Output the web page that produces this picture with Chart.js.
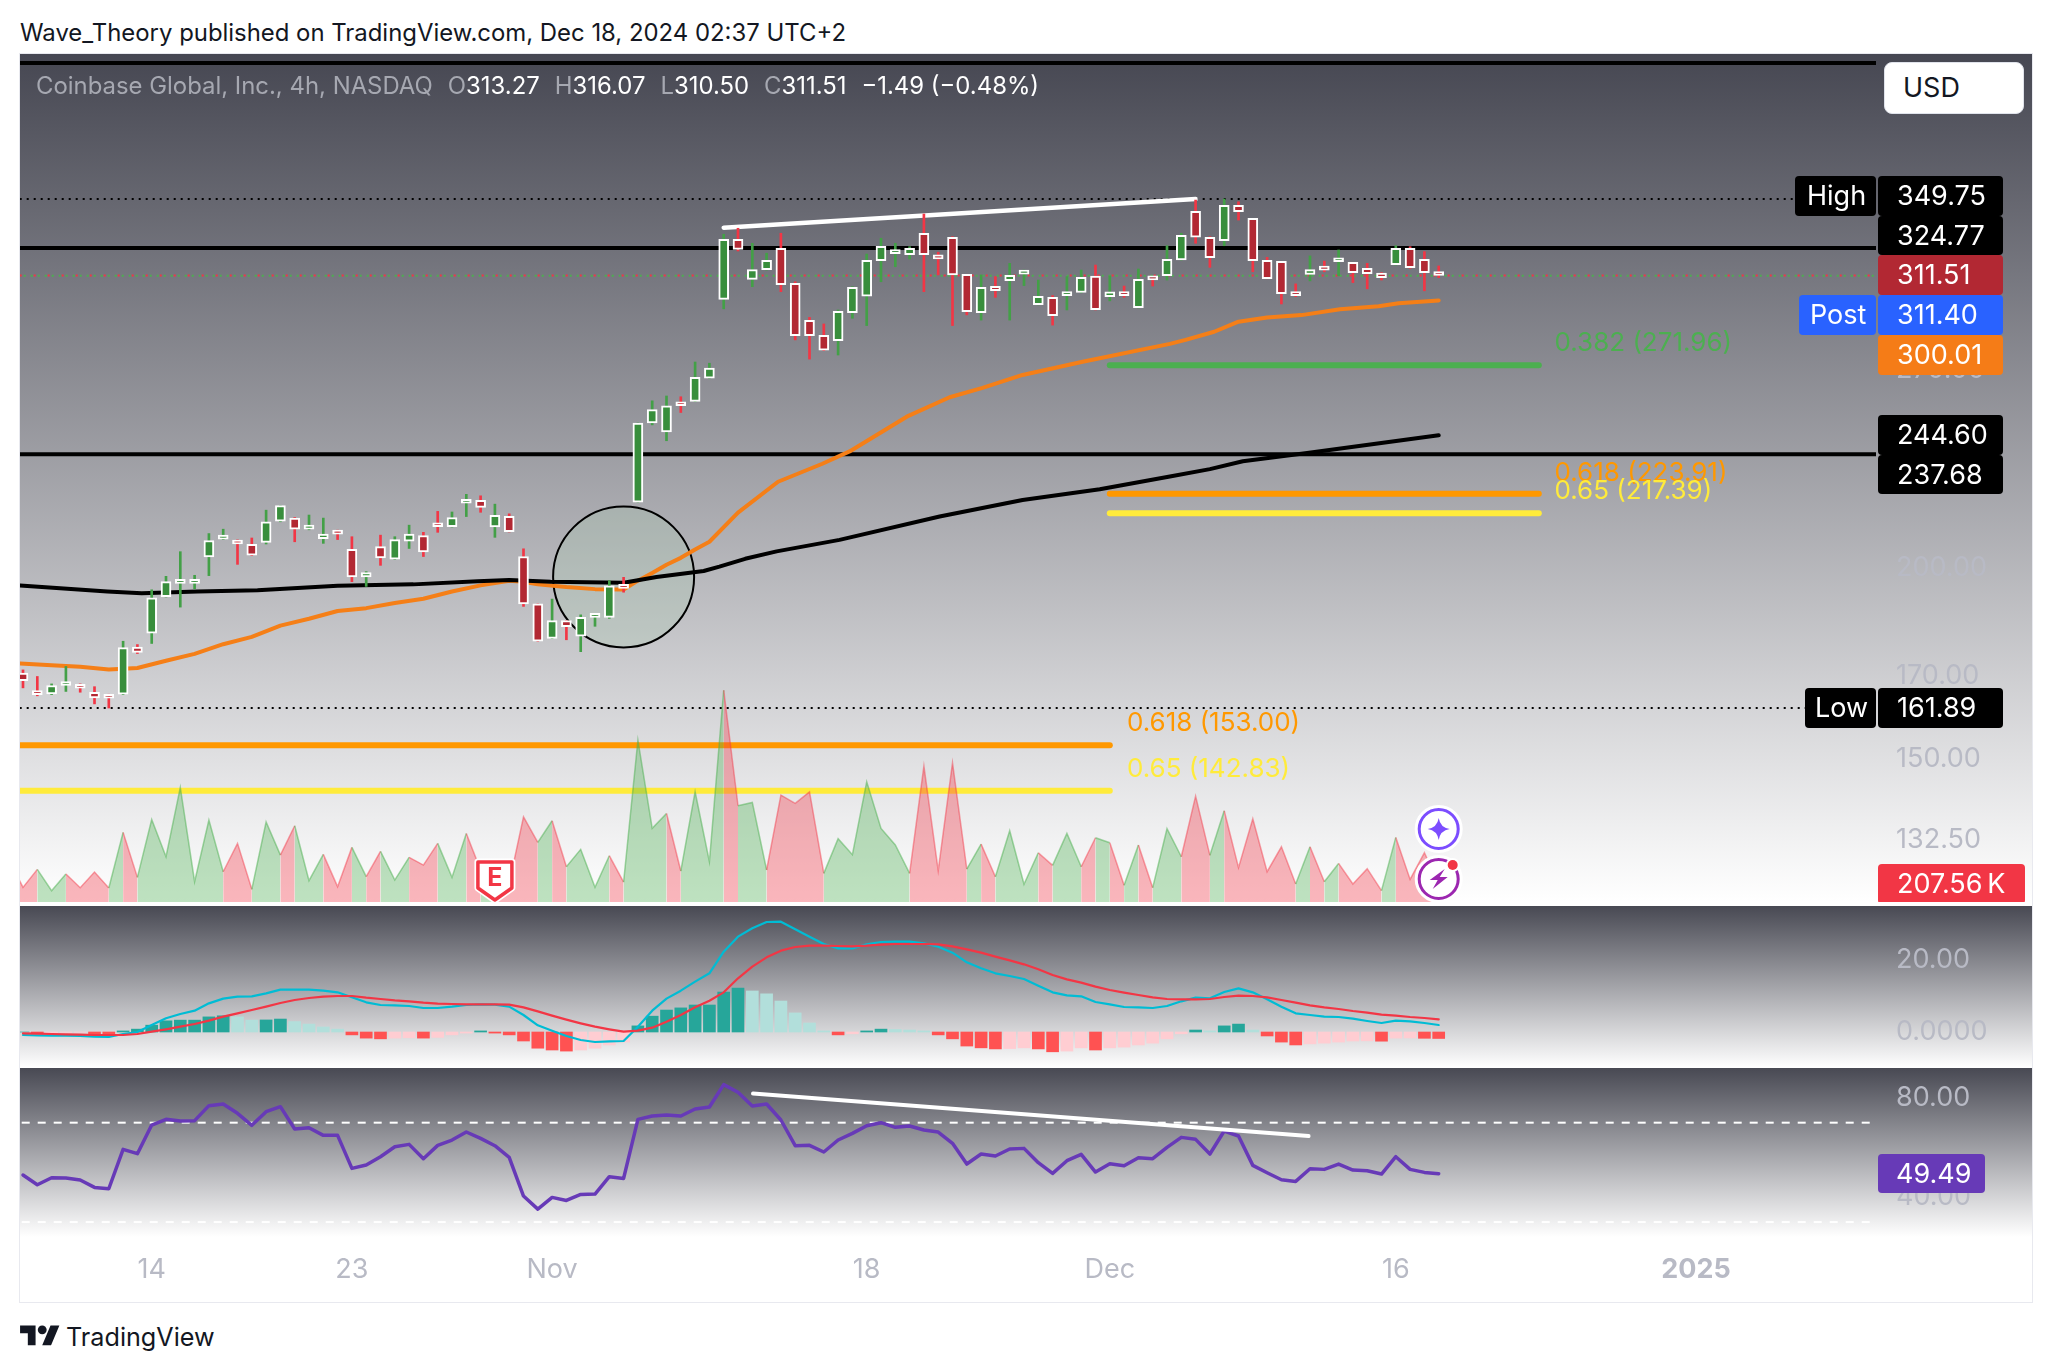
<!DOCTYPE html>
<html>
<head>
<meta charset="utf-8">
<title>Coinbase Global, Inc., 4h</title>
<script src="https://cdn.jsdelivr.net/npm/chart.js@4"></script>
<style>
    html, body { margin: 0; padding: 0; background: #fff; width: 2052px; height: 1372px; overflow: hidden; font-family: Inter, sans-serif; }
    .abs { position: absolute; white-space: nowrap; }
    .pane { position: absolute; left: 20px; width: 2012px; }
    .pane canvas { display: block; }
    #pricePane { top: 54px; height: 848px; background: linear-gradient(#464752, #fff); }
    #macdPane { top: 906px; height: 162px; background: linear-gradient(#484953, #fff); }
    #rsiPane { top: 1068px; height: 234px; background: linear-gradient(#484953 0, #fff 169px, #fff 100%); }
    #frame { position: absolute; left: 19px; top: 53px; width: 2012px; height: 1248px; border: 1px solid #e8e9ef; pointer-events: none; }
    #byline { left: 20px; top: 18px; font-size: 23.9px; color: #131722; }
    #legend { left: 36px; top: 71px; font-size: 23.9px; color: #a6a8b1; }
    #legend b { font-weight: 400; color: #fff; }
    #legend span { margin-left: 15px; }
    #usd { left: 1884px; top: 62px; width: 140px; height: 52px; box-sizing: border-box; background: #fff; border: 1px solid #e0e3eb; border-radius: 8px; font-size: 27px; line-height: 50px; padding-left: 18px; color: #131722; }
    #brand { left: 66px; top: 1322px; font-size: 25.2px; color: #131722; }
</style>
</head>
<body>
<div class="abs" id="byline">Wave_Theory published on TradingView.com, Dec 18, 2024 02:37 UTC+2</div>

<div class="pane" id="pricePane"><canvas id="priceChart" width="2012" height="848"></canvas></div>
<div class="pane" id="macdPane"><canvas id="macdChart" width="2012" height="162"></canvas></div>
<div class="pane" id="rsiPane"><canvas id="rsiChart" width="2012" height="234"></canvas></div>
<div id="frame"></div>

<div class="abs" id="legend">Coinbase Global, Inc., 4h, NASDAQ<span>O<b>313.27</b></span><span>H<b>316.07</b></span><span>L<b>310.50</b></span><span>C<b>311.51</b></span><span><b>−1.49 (−0.48%)</b></span></div>
<div class="abs" id="usd">USD</div>

<svg class="abs" style="left:20px;top:1321px" width="40" height="31" viewBox="0 0 36 28">
    <path fill="#131722" d="M14 22H7V11H0V4h14v18zM28 22h-8l7.5-18h8L28 22z"/>
    <circle fill="#131722" cx="20" cy="8" r="4"/>
</svg>
<div class="abs" id="brand">TradingView</div>

<script>
// Candles (4h bars)
const opens = [
    170.7, 166.0, 165.4, 167.5, 167.7, 165.8, 164.7, 165.3, 177.5, 181.3,
    191.6, 195.5, 195.5, 203.5, 209.0, 208.7, 207.4, 208.0, 214.8, 215.8,
    212.2, 209.2, 211.1, 205.8, 197.4, 206.7, 202.8, 208.4, 210.2, 213.5,
    213.0, 220.7, 221.7, 212.9, 216.4, 203.6, 189.5, 179.9, 184.8, 180.5,
    185.7, 185.7, 195.0, 221.1, 249.2, 245.9, 256.3, 257.5, 266.7, 300.5,
    329.0, 309.7, 314.3, 324.6, 307.9, 291.1, 284.6, 282.3, 294.5, 301.9,
    318.6, 322.0, 321.5, 332.1, 321.4, 330.1, 312.1, 294.5, 306.5, 309.1,
    312.2, 298.1, 301.4, 302.2, 303.6, 311.2, 301.7, 303.9, 296.7, 310.3,
    311.4, 319.0, 343.3, 330.1, 328.4, 346.4, 339.7, 318.8, 318.3, 303.9,
    312.0, 314.7, 318.1, 317.8, 314.9, 312.7, 316.7, 324.6, 319.2, 313.27
];
const highs = [
    171.5, 169.8, 167.9, 172.4, 167.9, 167.2, 165.3, 179.1, 178.2, 193.6,
    197.6, 205.1, 197.9, 210.8, 212.2, 208.8, 209.4, 218.4, 219.9, 216.0,
    216.8, 215.8, 211.9, 209.8, 199.0, 210.3, 209.8, 213.5, 211.2, 218.0,
    217.8, 223.7, 223.2, 220.4, 217.2, 206.0, 189.5, 190.9, 184.8, 186.4,
    186.4, 196.3, 197.3, 249.2, 257.7, 259.6, 259.3, 273.3, 272.8, 331.6,
    334.6, 327.1, 322.2, 332.1, 308.6, 292.4, 289.5, 295.7, 306.3, 321.8,
    329.6, 327.1, 325.4, 341.9, 322.7, 330.4, 312.1, 311.8, 311.0, 317.3,
    314.1, 309.4, 302.2, 311.0, 314.1, 316.5, 311.3, 306.6, 314.6, 310.3,
    325.9, 332.1, 349.2, 330.4, 349.75, 348.3, 339.7, 320.2, 318.3, 307.6,
    320.9, 318.4, 323.8, 317.8, 317.3, 312.9, 325.9, 325.4, 323.0, 316.07
];
const lows = [
    166.9, 164.9, 165.2, 166.0, 165.8, 162.9, 161.89, 165.2, 175.8, 178.5,
    191.5, 188.6, 193.9, 197.8, 208.9, 201.2, 203.9, 207.5, 214.6, 208.2,
    212.0, 207.7, 208.9, 196.0, 194.6, 200.9, 202.7, 206.1, 203.6, 211.2,
    212.9, 216.3, 217.7, 209.6, 211.3, 188.8, 179.1, 179.8, 179.5, 176.3,
    183.2, 185.4, 192.9, 221.1, 248.5, 242.6, 253.2, 257.4, 266.6, 296.2,
    323.3, 306.3, 314.1, 304.0, 282.6, 274.5, 278.1, 276.2, 292.0, 288.8,
    308.6, 315.7, 319.4, 304.0, 311.8, 288.8, 293.5, 291.2, 301.4, 291.2,
    306.8, 298.0, 289.0, 295.7, 303.5, 295.7, 299.8, 301.4, 296.6, 306.6,
    309.4, 318.9, 327.1, 315.4, 325.9, 338.8, 313.3, 310.0, 298.4, 301.7,
    309.0, 313.3, 311.4, 308.2, 305.3, 309.4, 316.5, 314.9, 304.4, 310.5
];
const closes = [
    168.7, 165.2, 167.5, 167.8, 166.8, 164.4, 164.3, 177.4, 176.1, 191.3,
    196.0, 195.9, 196.1, 208.6, 210.3, 207.5, 204.0, 214.6, 219.9, 212.2,
    213.5, 210.6, 210.6, 197.4, 198.7, 203.2, 208.9, 210.6, 205.0, 213.0,
    216.0, 221.7, 219.3, 216.7, 211.4, 189.5, 179.1, 184.8, 183.1, 185.7,
    186.4, 194.8, 194.0, 249.2, 254.3, 255.8, 255.8, 267.0, 270.8, 329.0,
    324.1, 314.3, 318.8, 307.2, 284.4, 284.4, 278.2, 295.1, 306.0, 318.8,
    325.6, 322.8, 324.6, 321.5, 319.4, 311.8, 294.9, 306.0, 304.5, 311.6,
    313.0, 301.9, 293.1, 303.9, 310.7, 295.8, 303.9, 302.2, 309.7, 309.5,
    319.2, 331.1, 330.1, 320.0, 346.4, 343.1, 318.6, 310.0, 303.1, 302.2,
    314.3, 314.1, 318.9, 312.9, 312.4, 310.5, 324.6, 315.2, 312.9, 311.51
];

// Volume in thousands, first value belongs to the bar just left of the visible range
const volumes = [
    495, 169, 376, 131, 323, 165, 346, 161, 803, 284, 952,
    522, 1321, 234, 945, 349, 676, 146, 922, 541, 879,
    246, 549, 177, 630, 292, 584, 253, 515, 426, 676,
    284, 791, 369, 445, 215, 983, 687, 937, 407, 607,
    169, 534, 230, 1866, 849, 1021, 357, 1271, 465, 2442,
    1110, 1148, 369, 1233, 1137, 1271, 330, 730, 545, 1386,
    849, 657, 330, 1567, 361, 1605, 380, 668, 292, 822,
    204, 568, 422, 791, 407, 741, 684, 192, 657, 165,
    845, 522, 1221, 538, 1052, 396, 960, 349, 637, 207,
    637, 234, 445, 207, 384, 131, 745, 261, 568, 207.56
];

// Moving averages, bar index + value
const emaBars = [-0.2, 2, 4, 6, 8, 10, 12, 14, 16, 18, 20, 22, 24, 26, 28, 30, 32, 34, 35, 36, 38, 40, 42, 43, 44, 45, 46, 47, 48, 50, 52.8, 55.9, 57.8, 61.8, 64.8, 67.1, 69.9, 74.1, 80.2, 81.3, 83.3, 85, 87, 89.4, 92.1, 94.8, 96.2, 99];
const emaValues = [173.2, 172.7, 172.3, 171.6, 172.0, 173.9, 175.7, 178.3, 180.3, 183.4, 185.3, 187.5, 188.3, 189.8, 191.0, 193.1, 194.9, 196.3, 196.0, 195.2, 194.4, 193.8, 193.7, 196.3, 198.6, 201.1, 203.2, 205.8, 208.2, 217.6, 228.0, 234.3, 238.7, 251.6, 259.1, 262.8, 268.0, 273.4, 280.9, 282.6, 286.1, 290.5, 292.3, 293.4, 296.0, 297.4, 298.7, 300.01];
const smaBars = [-0.2, 5.9, 8.3, 12.2, 16.4, 22, 27.3, 31.8, 34, 36.9, 42, 44.3, 47.6, 48.7, 50.5, 52.7, 57.1, 64.1, 69.9, 75.3, 80.2, 83, 85.3, 89.8, 99];
const smaValues = [194.9, 193.1, 192.6, 193.1, 193.5, 194.8, 195.2, 196.1, 196.5, 196.0, 195.7, 197.4, 199.2, 200.5, 202.9, 205.2, 208.8, 216.3, 221.8, 225.4, 229.8, 232.4, 235.2, 238.1, 244.6];

// Drawings on the price pane
const blackLevels = [429.7, 324.77, 237.68];
const dottedLevels = [349.75, 161.89];
const fibLevels = [271.96, 223.91, 217.39, 153.00, 142.83];
const fibColors = ['#4caf50', '#ff9800', '#ffeb3b', '#ff9800', '#ffeb3b'];
const fibFrom = [76, 76, 76, -0.3, -0.3];
const fibTo = [106, 106, 106, 76, 76];
const fibLabels = ['0.382 (271.96)', '0.618 (223.91)', '0.65 (217.39)', '0.618 (153.00)', '0.65 (142.83)'];
const priceTrendBars = [49, 82];
const priceTrendValues = [334.9, 349.75];
const circleBar = 42;
const circlePrice = 197.4;

// MACD
const histogram = [
    0, -0.3, -0.2, -0.1, -0.05, -0.8, -1.0, 0.3, 0.8, 1.9,
    3.1, 3.3, 3.3, 4.2, 4.5, 4.2, 3.3, 3.35, 3.6, 2.9,
    2.2, 1.4, 0.8, -0.8, -1.7, -1.9, -1.7, -1.6, -1.7, -1.5,
    -0.8, -0.3, 0.3, -0.3, -0.8, -2.5, -4.5, -5.0, -5.3, -5.0,
    -4.5, -3.6, -2.8, 1.7, 4.4, 6.1, 6.7, 7.5, 7.5, 11.1,
    12.2, 11.4, 10.6, 8.6, 5.3, 2.5, 0.3, -0.8, -0.5, 0.3,
    0.8, 0.7, 0.55, 0.3, -0.8, -1.9, -3.9, -4.4, -4.7, -4.6,
    -4.4, -4.7, -5.5, -5.3, -4.4, -5.0, -4.4, -4.2, -3.6, -3.1,
    -1.9, -0.5, 0.55, 0.3, 1.7, 2.2, 0.55, -1.1, -2.8, -3.6,
    -3.3, -3.1, -2.8, -2.5, -2.45, -2.55, -1.7, -1.65, -1.75, -1.8
];
const macdLine = [
    -0.83, -0.93, -1.02, -1.02, -1.11, -1.30, -1.39, -0.56, 0, 1.94,
    3.80, 5.00, 5.93, 7.96, 9.26, 9.81, 9.91, 10.74, 11.76, 11.76,
    11.76, 11.48, 11.02, 9.63, 8.24, 7.50, 7.41, 7.22, 6.67, 6.67,
    7.04, 7.50, 7.69, 7.59, 7.04, 4.72, 1.85, 0.37, -1.11, -2.22,
    -2.78, -2.59, -2.50, 1.48, 5.93, 9.26, 11.48, 13.98, 16.30, 22.31,
    26.48, 28.80, 30.56, 30.65, 28.52, 26.48, 24.44, 23.24, 23.24, 24.35,
    25.00, 25.09, 25.09, 24.63, 23.70, 22.04, 19.35, 17.69, 16.30, 15.56,
    14.72, 12.87, 11.02, 10.19, 9.91, 8.33, 7.69, 6.94, 6.85, 6.67,
    7.22, 8.52, 9.54, 9.35, 11.11, 12.13, 11.02, 9.07, 7.04, 5.19,
    4.72, 4.26, 4.17, 3.70, 3.06, 2.50, 3.15, 2.96, 2.50, 1.94
];
const signalLine = [
    -0.37, -0.46, -0.56, -0.65, -0.74, -0.83, -0.83, -0.83, -0.56, 0.09,
    0.74, 1.48, 2.22, 3.15, 4.26, 5.19, 6.11, 7.04, 8.06, 8.89,
    9.44, 9.81, 10.00, 10.00, 9.54, 9.17, 8.80, 8.52, 8.15, 7.87,
    7.78, 7.69, 7.69, 7.69, 7.59, 6.85, 5.74, 4.54, 3.43, 2.41,
    1.48, 0.74, 0.09, 0.37, 1.20, 2.87, 4.72, 6.85, 8.70, 11.02,
    14.91, 18.15, 20.74, 22.59, 23.61, 23.98, 23.98, 23.89, 23.80, 23.98,
    24.26, 24.44, 24.44, 24.44, 24.35, 23.80, 22.96, 22.04, 20.93, 19.91,
    18.80, 17.41, 15.83, 14.63, 13.70, 12.59, 11.67, 10.93, 10.28, 9.63,
    9.17, 9.07, 9.07, 9.17, 9.72, 10.09, 10.00, 9.63, 8.89, 8.15,
    7.41, 6.85, 6.39, 5.83, 5.37, 4.81, 4.54, 4.17, 3.89, 3.52
];

// RSI
const rsiValues = [
    48.92, 45.03, 47.85, 47.72, 46.91, 43.96, 43.42, 59.26, 57.52, 69.06,
    71.34, 70.67, 70.81, 76.85, 77.52, 73.76, 68.93, 74.43, 76.44, 67.45,
    67.99, 64.90, 64.90, 51.61, 52.95, 56.31, 60.33, 61.27, 55.50, 60.87,
    63.02, 66.24, 63.69, 60.74, 56.04, 40.47, 35.23, 39.93, 38.72, 41.14,
    41.27, 48.25, 47.58, 71.34, 72.68, 73.09, 72.68, 75.50, 76.31, 85.30,
    82.22, 76.71, 77.52, 71.07, 60.74, 60.87, 58.19, 63.02, 65.70, 68.79,
    70.00, 68.12, 68.66, 67.05, 66.24, 61.68, 53.35, 57.38, 56.58, 59.39,
    59.66, 53.89, 49.59, 54.70, 57.25, 50.13, 53.49, 52.68, 55.90, 55.50,
    60.07, 64.09, 63.29, 57.38, 66.64, 64.63, 52.82, 49.86, 47.04, 46.37,
    51.47, 51.21, 53.35, 50.94, 50.67, 49.33, 56.31, 51.21, 50.00, 49.49
];
const rsiBands = [70, 30];
const rsiTrendBars = [51.05, 89.9];
const rsiTrendValues = [81.7, 64.6];

// Axes
const priceTicks = [132.5, 150, 170, 200, 240, 270];
const macdTicks = [0, 20];
const rsiTicks = [40, 80];
const timeTickBars = [9, 23, 37, 59, 76, 96, 117];
const timeTickLabels = ['14', '23', 'Nov', '18', 'Dec', '16', '2025'];

// Layout of the shared time axis: 14.3px per bar across the 1856px plot
const X_MIN = -0.21;
const X_MAX = 129.58;
const AXIS_WIDTH = 156;
const TICK_COLOR = '#b8bac5';
const TAG_FONT = '27px Inter, sans-serif';

const isUp = closes.map((c, i) => c >= opens[i]);

function pairs(xs, ys) {
    return xs.map((x, i) => ({ x: x, y: ys[i] }));
}

function bars(values) {
    return values.map((v, i) => ({ x: i, y: v }));
}

function levelLine(value, color, width, dash, dashOffset, order) {
    return {
        type: 'line',
        data: pairs([X_MIN - 1, X_MAX + 1], [value, value]),
        borderColor: color,
        borderWidth: width,
        borderDash: dash || [],
        borderDashOffset: dashOffset || 0,
        pointRadius: 0,
        order: order
    };
}

function trendLine(xs, ys, color, width, order) {
    return {
        type: 'line',
        data: pairs(xs, ys),
        borderColor: color,
        borderWidth: width,
        borderCapStyle: 'round',
        borderJoinStyle: 'round',
        pointRadius: 0,
        tension: 0,
        order: order
    };
}

// Labels must not shrink the plot area, panes have to fill their canvas
function noScalePadding(scale) {
    scale.paddingTop = 0;
    scale.paddingBottom = 0;
    scale.paddingLeft = 0;
    scale.paddingRight = 0;
}

function valueAxis(ticks, format) {
    return {
        position: 'right',
        grid: { display: false, drawTicks: false },
        border: { display: false },
        afterFit: scale => {
            scale.width = AXIS_WIDTH;
            noScalePadding(scale);
        },
        afterBuildTicks: scale => { scale.ticks = ticks.map(v => ({ value: v })); },
        ticks: {
            padding: 20,
            autoSkip: false,
            color: TICK_COLOR,
            font: { family: 'Inter, sans-serif', size: 27 },
            callback: format
        }
    };
}

function timeAxis(visible) {
    const axis = { type: 'linear', offset: false, min: X_MIN, max: X_MAX, display: visible, grid: { display: false }, border: { display: false } };
    if (visible) {
        axis.afterFit = scale => {
            scale.height = 65;
            noScalePadding(scale);
        };
        axis.afterBuildTicks = scale => { scale.ticks = timeTickBars.map(v => ({ value: v })); };
        axis.ticks = {
            padding: 17,
            autoSkip: false,
            maxRotation: 0,
            color: TICK_COLOR,
            font: ctx => ({ family: 'Inter, sans-serif', size: 27, weight: ctx.tick && ctx.tick.value === 117 ? 'bold' : 'normal' }),
            callback: v => timeTickLabels[timeTickBars.indexOf(v)]
        };
        axis.grid = { display: false, drawTicks: false };
    }
    return axis;
}

function baseOptions(scales) {
    return {
        responsive: false,
        animation: false,
        layout: { padding: 0, autoPadding: false },
        plugins: { legend: { display: false }, tooltip: { enabled: false } },
        scales: scales
    };
}

function tag(ctx, x, top, w, h, color, text, textX) {
    ctx.fillStyle = color;
    ctx.beginPath();
    ctx.roundRect(x, top, w, h, 4);
    ctx.fill();
    ctx.fillStyle = '#fff';
    ctx.font = TAG_FONT;
    ctx.textAlign = 'left';
    ctx.textBaseline = 'middle';
    ctx.fillText(text, textX, top + h / 2 + 1);
}

function drawEarnings(ctx, cx, bottom) {
    ctx.beginPath();
    ctx.moveTo(cx - 17, bottom - 39);
    ctx.lineTo(cx + 17, bottom - 39);
    ctx.lineTo(cx + 17, bottom - 13);
    ctx.lineTo(cx, bottom - 1);
    ctx.lineTo(cx - 17, bottom - 13);
    ctx.closePath();
    ctx.lineJoin = 'round';
    ctx.strokeStyle = '#fff';
    ctx.lineWidth = 7;
    ctx.stroke();
    ctx.fillStyle = '#fff';
    ctx.fill();
    ctx.strokeStyle = '#f23645';
    ctx.lineWidth = 3.5;
    ctx.stroke();
    ctx.fillStyle = '#f23645';
    ctx.font = 'bold 25px Inter, sans-serif';
    ctx.textAlign = 'center';
    ctx.textBaseline = 'middle';
    ctx.fillText('E', cx, bottom - 23);
}

function ring(ctx, cx, cy, color) {
    ctx.beginPath();
    ctx.arc(cx, cy, 21, 0, Math.PI * 2);
    ctx.fillStyle = '#fff';
    ctx.fill();
    ctx.strokeStyle = '#fff';
    ctx.lineWidth = 6;
    ctx.stroke();
    ctx.beginPath();
    ctx.arc(cx, cy, 19.5, 0, Math.PI * 2);
    ctx.strokeStyle = color;
    ctx.lineWidth = 3;
    ctx.stroke();
}

function drawIcons(ctx, cx, cy1, cy2) {
    ring(ctx, cx, cy1, '#7c4dff');
    ctx.fillStyle = '#7c4dff';
    ctx.beginPath();
    ctx.moveTo(cx, cy1 - 11);
    ctx.quadraticCurveTo(cx + 1.5, cy1 - 1.5, cx + 11, cy1);
    ctx.quadraticCurveTo(cx + 1.5, cy1 + 1.5, cx, cy1 + 11);
    ctx.quadraticCurveTo(cx - 1.5, cy1 + 1.5, cx - 11, cy1);
    ctx.quadraticCurveTo(cx - 1.5, cy1 - 1.5, cx, cy1 - 11);
    ctx.fill();

    ring(ctx, cx, cy2, '#9c27b0');
    ctx.fillStyle = '#9c27b0';
    ctx.beginPath();
    ctx.moveTo(cx + 6, cy2 - 10);
    ctx.lineTo(cx - 9, cy2 + 1);
    ctx.lineTo(cx - 1, cy2 + 1);
    ctx.lineTo(cx - 6, cy2 + 10);
    ctx.lineTo(cx + 9, cy2 - 2);
    ctx.lineTo(cx + 1, cy2 - 2);
    ctx.closePath();
    ctx.fill();
    ctx.beginPath();
    ctx.arc(cx + 14, cy2 - 14, 7, 0, Math.PI * 2);
    ctx.fillStyle = '#fff';
    ctx.fill();
    ctx.beginPath();
    ctx.arc(cx + 14, cy2 - 14, 5, 0, Math.PI * 2);
    ctx.fillStyle = '#f23645';
    ctx.fill();
}

// Fib captions, price tags and markers on top of the price pane
const priceOverlay = {
    id: 'priceOverlay',
    afterDraw(chart) {
        const ctx = chart.ctx;
        const x = chart.scales.x;
        const y = chart.scales.y;
        ctx.save();

        ctx.font = '26px Inter, sans-serif';
        ctx.textAlign = 'left';
        ctx.textBaseline = 'middle';
        const fibCaptionBars = [107.1, 107.1, 107.1, 77.2, 77.2];
        const fibCaptionLift = [22, 21, 22, 22, 22];
        fibLabels.forEach((label, i) => {
            ctx.fillStyle = fibColors[i];
            ctx.fillText(label, x.getPixelForValue(fibCaptionBars[i]), y.getPixelForValue(fibLevels[i]) - fibCaptionLift[i]);
        });

        drawEarnings(ctx, x.getPixelForValue(33), chart.chartArea.bottom - 1);
        drawIcons(ctx, x.getPixelForValue(99), 775, 825);

        const tagX = 1858;
        const textX = 1877;
        tag(ctx, 1775, 122, 81, 40, '#000', 'High', 1787);
        tag(ctx, tagX, 122, 125, 40, '#000', '349.75', textX);
        tag(ctx, tagX, 162, 125, 39, '#000', '324.77', textX);
        tag(ctx, tagX, 201, 125, 40, '#b22833', '311.51', textX);
        tag(ctx, 1779, 241, 77, 40, '#2962ff', 'Post', 1790);
        tag(ctx, tagX, 241, 125, 40, '#2962ff', '311.40', textX);
        tag(ctx, tagX, 281, 125, 40, '#f57c17', '300.01', textX);
        tag(ctx, tagX, 361, 125, 40, '#000', '244.60', textX);
        tag(ctx, tagX, 401, 125, 39, '#000', '237.68', textX);
        tag(ctx, 1785, 634, 71, 40, '#000', 'Low', 1795);
        tag(ctx, tagX, 634, 125, 40, '#000', '161.89', textX);
        tag(ctx, tagX, 810, 147, 40, '#f23645', '207.56\u2009K', textX);
        ctx.restore();
    }
};

const rsiOverlay = {
    id: 'rsiOverlay',
    afterDraw(chart) {
        const ctx = chart.ctx;
        ctx.save();
        tag(ctx, 1858, 86, 107, 39, '#673ab7', '49.49', 1876);
        ctx.restore();
    }
};

// Price pane
new Chart(document.getElementById('priceChart'), {
    type: 'bar',
    data: {
        datasets: [
            {
                data: opens.map((o, i) => ({ x: i, y: [Math.min(o, closes[i]), Math.max(o, closes[i])] })),
                grouped: false,
                barThickness: 10,
                minBarLength: 4,
                backgroundColor: isUp.map(u => (u ? '#388e3c' : '#b22833')),
                borderColor: '#fff',
                borderWidth: 2,
                borderSkipped: false,
                order: 1
            },
            {
                data: highs.map((h, i) => ({ x: i, y: [lows[i], h] })),
                grouped: false,
                barThickness: 2,
                backgroundColor: isUp.map(u => (u ? '#43a047' : '#f23645')),
                borderWidth: 0,
                order: 2
            },
            trendLine(priceTrendBars, priceTrendValues, '#fff', 4.5, 3),
            trendLine(smaBars, smaValues, '#000', 4, 4),
            trendLine(emaBars, emaValues, '#f57f17', 4, 4),
            {
                type: 'line',
                data: [{ x: circleBar, y: circlePrice }],
                pointRadius: 70.5,
                pointBorderWidth: 2,
                pointBorderColor: '#000',
                pointBackgroundColor: 'rgba(170, 200, 175, 0.28)',
                showLine: false,
                order: 5
            },
            ...blackLevels.map(v => levelLine(v, '#000', 4, null, 0, 6)),
            levelLine(dottedLevels[0], '#000', 2, [2, 5], 0, 6),
            levelLine(dottedLevels[1], '#000', 2, [2, 5], 0, 6),
            levelLine(closes[99], '#f23645', 2, [2, 12], 0, 6),
            levelLine(311.40, '#4caf50', 2, [2, 5], 3, 6),
            {
                type: 'line',
                data: volumes.map((v, i) => ({ x: i - 1, y: v })),
                yAxisID: 'vol',
                fill: 'origin',
                pointRadius: 0,
                tension: 0,
                borderWidth: 1.5,
                segment: {
                    borderColor: ctx => (isUp[ctx.p1DataIndex - 1] ? 'rgba(76, 175, 80, 0.5)' : 'rgba(242, 54, 69, 0.45)'),
                    backgroundColor: ctx => (isUp[ctx.p1DataIndex - 1] ? 'rgba(76, 175, 80, 0.36)' : 'rgba(242, 54, 69, 0.36)')
                },
                order: 7
            },
            ...fibLevels.map((v, i) => trendLine([fibFrom[i], fibTo[i]], [v, v], fibColors[i], 6, 8))
        ]
    },
    options: baseOptions({
        x: timeAxis(false),
        y: Object.assign(valueAxis(priceTicks, v => v.toFixed(2)), { type: 'logarithmic', min: 120.7, max: 435.6 }),
        vol: { display: false, min: 0, max: 9780 }
    }),
    plugins: [priceOverlay]
});

// MACD pane
new Chart(document.getElementById('macdChart'), {
    type: 'bar',
    data: {
        datasets: [
            {
                data: bars(histogram),
                barThickness: 12,
                grouped: false,
                backgroundColor: histogram.map((v, i) => {
                    const rising = i === 0 || v >= histogram[i - 1];
                    if (v >= 0) return rising ? '#26a69a' : '#b2dfdb';
                    return rising ? '#ffcdd2' : '#ff5252';
                }),
                order: 3
            },
            trendLine(macdLine.map((v, i) => i), macdLine, '#00bcd4', 2.2, 2),
            trendLine(signalLine.map((v, i) => i), signalLine, '#f23645', 2.2, 1)
        ]
    },
    options: baseOptions({
        x: timeAxis(false),
        y: Object.assign(valueAxis(macdTicks, v => (v === 0 ? '0.0000' : v.toFixed(2))), { min: -10, max: 35 })
    })
});

// RSI pane with the time axis underneath
new Chart(document.getElementById('rsiChart'), {
    type: 'line',
    data: {
        datasets: [
            trendLine(rsiValues.map((v, i) => i), rsiValues, '#673ab7', 3.5, 2),
            trendLine(rsiTrendBars, rsiTrendValues, '#fff', 4, 1),
            ...rsiBands.map(v => levelLine(v, '#fff', 2, [8, 8], 0, 3))
        ]
    },
    options: baseOptions({
        x: timeAxis(true),
        y: Object.assign(valueAxis(rsiTicks, v => v.toFixed(2)), { min: 24, max: 92 })
    }),
    plugins: [rsiOverlay]
});
</script>
</body>
</html>
